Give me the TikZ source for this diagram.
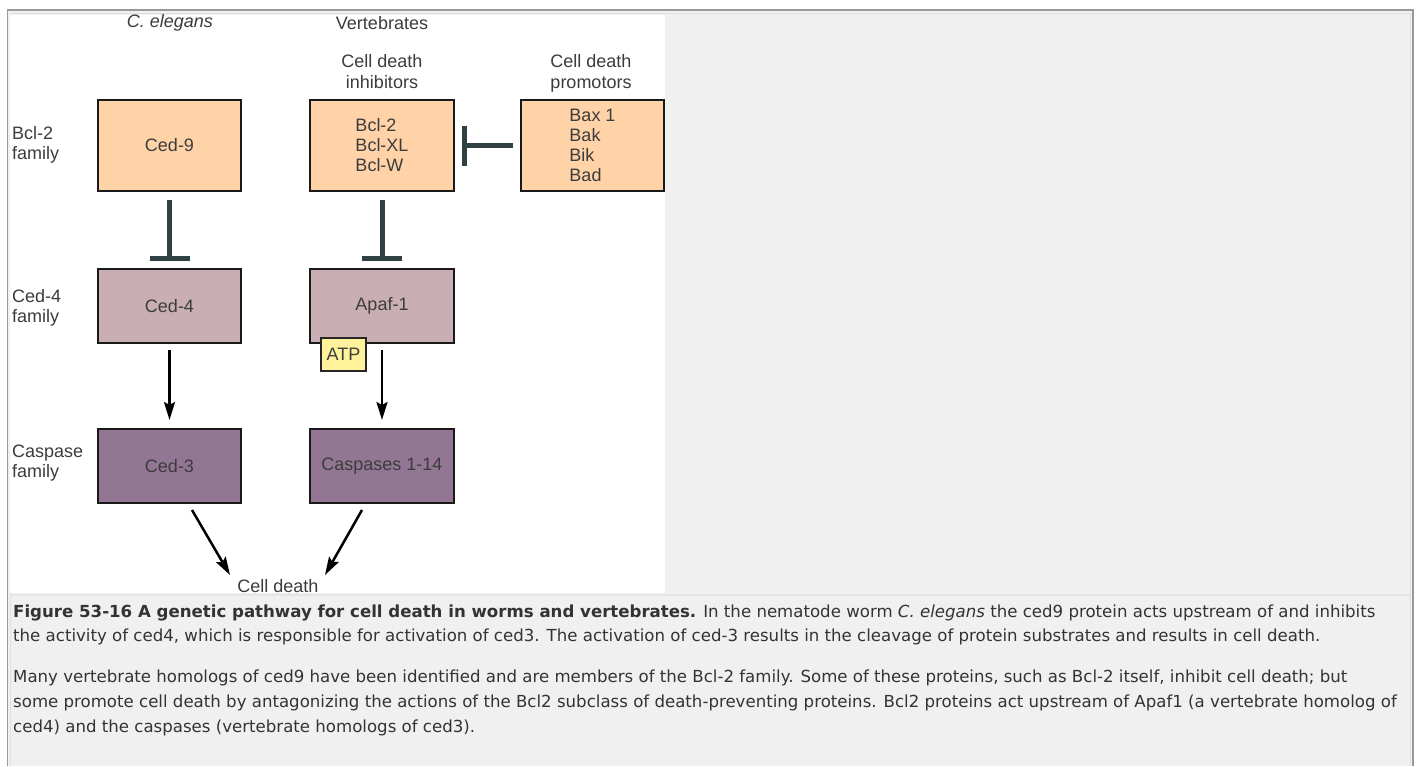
\documentclass[tikz,border=0pt]{standalone}
\usepackage{fontspec}
\setmainfont{Liberation Sans}
\newfontfamily\capfont{DejaVu Sans}
\usetikzlibrary{arrows.meta}
\definecolor{peach}{HTML}{FFD3A7}
\definecolor{rosegrey}{HTML}{C9AEB4}
\definecolor{mauve}{HTML}{937694}
\definecolor{atpyellow}{HTML}{FFF29A}
\definecolor{slate}{HTML}{2F4142}
\definecolor{labelgrey}{HTML}{3C3C3C}
\definecolor{panelgrey}{HTML}{F0F0F0}
\definecolor{framegrey}{HTML}{9A9A9A}
\definecolor{captext}{HTML}{333333}
\tikzset{
  protbox/.style={draw=black!90, line width=2.5pt, outer sep=0pt, inner sep=0pt,
    minimum height=74pt, minimum width=143pt, text=labelgrey,
    font=\fontsize{18}{20}\selectfont, align=left},
  rowlabel/.style={anchor=west, align=left, text=labelgrey, inner sep=0pt,
    font=\fontsize{18}{20}\selectfont},
  collabel/.style={text=labelgrey, inner sep=0pt, align=center,
    font=\fontsize{18}{21}\selectfont},
  inhibit/.style={draw=slate, line width=5pt, -{Bar[width=40pt]}},
  activate/.style={draw=black, line width=2.5pt, -{Stealth[length=18pt,width=11pt,inset=3pt]}},
  capline/.style={anchor=base west, inner sep=0pt, text=captext,
    font=\capfont\fontsize{16.6}{19}\selectfont}
}
\begin{document}
\begin{tikzpicture}[x=1pt,y=-1pt]
  % Sfondo
  \useasboundingbox (0,0) rectangle (1419,766);
  \fill[white] (0,0) rectangle (1419,766);
  \fill[panelgrey] (8,11) rectangle (1413,766);
  \draw[framegrey, line width=1.5pt] (7.5,766) |- (1413,10) -- (1413,766);
  \draw[black!12, line width=1pt] (10,766) |- (1410.5,13.5) -- (1410.5,766);
  \fill[white] (10,15) rectangle (665,593);
  \draw[black!10, line width=1.5pt] (10,595) -- (1410,595);

  % Nodi
  \node[collabel, font=\fontsize{18}{21}\selectfont\itshape] (celegans) at (170,23) {C. elegans};
  \node[collabel] (vert) at (382,23) {Vertebrates};
  \node[collabel] (inhib) at (382,72) {Cell death\\inhibitors};
  \node[collabel] (promo) at (591,73) {Cell death\\promotors};

  \node[rowlabel] (bclfam) at (12,145) {Bcl-2\\family};
  \node[rowlabel] (cedfam) at (12,308) {Ced-4\\family};
  \node[rowlabel] (casfam) at (12,463) {Caspase\\family};

  \node[protbox, fill=peach, minimum height=91pt] (ced9) at (169.5,145.5) {Ced-9};
  \node[protbox, fill=peach, minimum height=91pt, minimum width=144pt] (bcl2) at (382,145.5) {Bcl-2\\Bcl-XL\\Bcl-W};
  \node[protbox, fill=peach, minimum height=91pt] (bax) at (592.5,145.5) {Bax 1\\Bak\\Bik\\Bad};

  \node[protbox, fill=rosegrey] (ced4) at (169.5,306) {Ced-4};
  \node[protbox, fill=rosegrey, minimum width=144pt] (apaf) at (382,306) {Apaf-1};
  \node[draw=black!85, line width=1.5pt, fill=atpyellow, minimum width=45pt, minimum height=33pt,
    inner sep=0pt, text=labelgrey, font=\fontsize{18}{20}\selectfont] (atp) at (343.5,354.5) {ATP};

  \node[protbox, fill=mauve] (ced3) at (169.5,466) {Ced-3};
  \node[protbox, fill=mauve, minimum width=144pt] (casp) at (382,466) {Caspases 1-14};

  \node[collabel] (death) at (278,586) {Cell death};

  % Archi
  \draw[inhibit, shorten <=9pt, shorten >=8pt] (ced9) -- (ced4);
  \draw[inhibit, shorten <=9pt, shorten >=8pt] (bcl2) -- (apaf);
  \draw[inhibit, shorten <=8pt, shorten >=8pt] (bax) -- (bcl2);
  \draw[activate, shorten <=7pt, shorten >=9pt] (ced4) -- (ced3);
  \draw[activate, shorten <=7pt, shorten >=9pt] (apaf) -- (casp);
  \draw[activate] ([xshift=22.5pt,yshift=-7pt]ced3.south) -- ([xshift=-48pt,yshift=11pt]death.center);
  \draw[activate] ([xshift=-20pt,yshift=-7pt]casp.south) -- ([xshift=47pt,yshift=11pt]death.center);

  % Didascalia
  \node[capline] (cap1) at (13,617) {\textbf{Figure 53-16 A genetic pathway for cell death in worms and vertebrates.} In the nematode worm \textit{C. elegans} the ced9 protein acts upstream of and inhibits};
  \node[capline] (cap2) at (13,641) {the activity of ced4, which is responsible for activation of ced3. The activation of ced-3 results in the cleavage of protein substrates and results in cell death.};
  \node[capline] (cap3) at (13,682) {Many vertebrate homologs of ced9 have been identified and are members of the Bcl-2 family. Some of these proteins, such as Bcl-2 itself, inhibit cell death; but};
  \node[capline] (cap4) at (13,707) {some promote cell death by antagonizing the actions of the Bcl2 subclass of death-preventing proteins. Bcl2 proteins act upstream of Apaf1 (a vertebrate homolog of};
  \node[capline] (cap5) at (13,732) {ced4) and the caspases (vertebrate homologs of ced3).};
\end{tikzpicture}
\end{document}
